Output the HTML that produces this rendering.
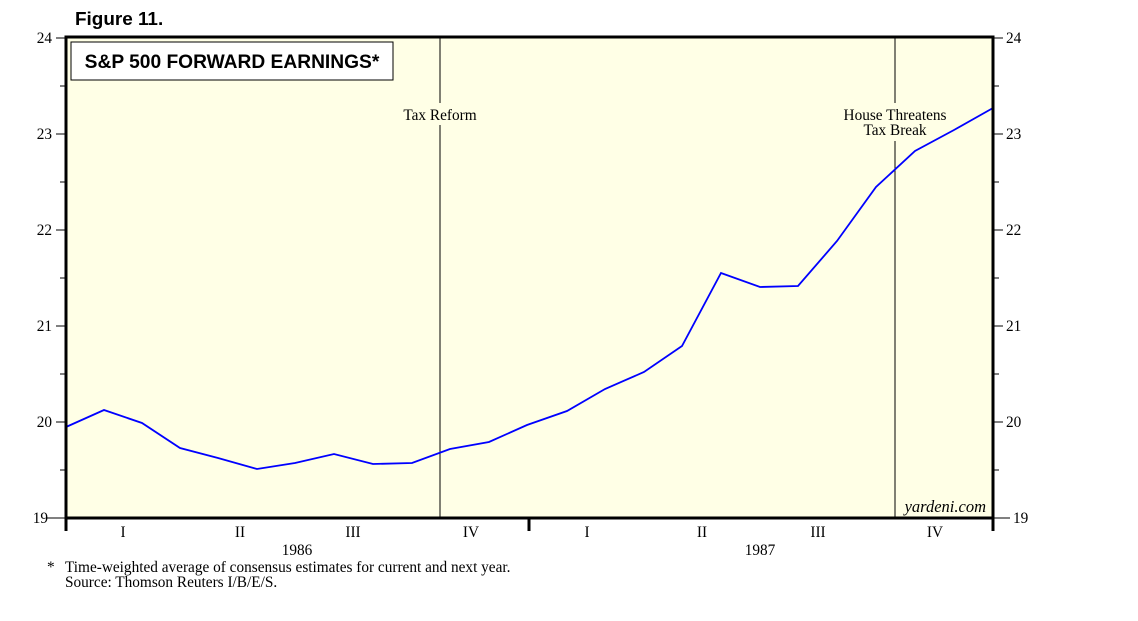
<!DOCTYPE html>
<html><head><meta charset="utf-8"><style>
body{margin:0;background:#fff;width:1138px;height:621px;overflow:hidden}
svg{display:block}
.s{font-family:"Liberation Serif",serif;font-size:15.3px;fill:#000}
</style></head><body>
<svg width="1138" height="621" viewBox="0 0 1138 621">
<text x="75" y="25" font-family="Liberation Sans,sans-serif" font-weight="bold" font-size="18.9">Figure 11.</text>
<rect x="66" y="37" width="927" height="481" fill="#ffffe6"/>
<g stroke="#000" stroke-width="1">
<line x1="440" y1="37" x2="440" y2="103"/><line x1="440" y1="125" x2="440" y2="518"/>
<line x1="895" y1="37" x2="895" y2="103"/><line x1="895" y1="141" x2="895" y2="518"/>
</g>
<rect x="71" y="42" width="322" height="38" fill="#fff" stroke="#000" stroke-width="1"/>
<text x="232" y="68" text-anchor="middle" font-family="Liberation Sans,sans-serif" font-weight="bold" font-size="19.2">S&amp;P 500 FORWARD EARNINGS*</text>
<text class="s" x="440" y="120" text-anchor="middle">Tax Reform</text>
<text class="s" x="895" y="120" text-anchor="middle">House Threatens</text>
<text class="s" x="895" y="135" text-anchor="middle">Tax Break</text>
<polyline fill="none" stroke="#0000ff" stroke-width="1.8" points="66,427 104,410 142,423 180,448 218,458 257,469 295,463 334,454 373,464 412,463 450,449 489,442 527,425 567,411 605,389 644,372 682,346 721,273 760,287 798,286 837,241 876,187 915,151 954,130 993,108"/>
<rect x="66" y="37" width="927" height="481" fill="none" stroke="#000" stroke-width="3"/>
<g stroke="#000" stroke-width="1">
<line x1="56" y1="38" x2="66" y2="38"/><line x1="60" y1="86" x2="66" y2="86"/>
<line x1="56" y1="134" x2="66" y2="134"/><line x1="60" y1="182" x2="66" y2="182"/>
<line x1="56" y1="230" x2="66" y2="230"/><line x1="60" y1="278" x2="66" y2="278"/>
<line x1="56" y1="326" x2="66" y2="326"/><line x1="60" y1="374" x2="66" y2="374"/>
<line x1="56" y1="422" x2="66" y2="422"/><line x1="60" y1="470" x2="66" y2="470"/>
<line x1="46" y1="518" x2="66" y2="518"/>
<line x1="993" y1="38" x2="1003" y2="38"/><line x1="993" y1="86" x2="999" y2="86"/>
<line x1="993" y1="134" x2="1003" y2="134"/><line x1="993" y1="182" x2="999" y2="182"/>
<line x1="993" y1="230" x2="1003" y2="230"/><line x1="993" y1="278" x2="999" y2="278"/>
<line x1="993" y1="326" x2="1003" y2="326"/><line x1="993" y1="374" x2="999" y2="374"/>
<line x1="993" y1="422" x2="1003" y2="422"/><line x1="993" y1="470" x2="999" y2="470"/>
<line x1="993" y1="518" x2="1010" y2="518"/>
</g>
<g stroke="#000" stroke-width="3"><line x1="66" y1="518" x2="66" y2="531"/><line x1="529" y1="518" x2="529" y2="531"/><line x1="993" y1="518" x2="993" y2="531"/></g>
<g class="s" text-anchor="end">
<text x="52" y="43">24</text><text x="52" y="139">23</text><text x="52" y="235">22</text><text x="52" y="331">21</text><text x="52" y="427">20</text><text x="48" y="523">19</text>
</g>
<g class="s">
<text x="1006" y="43">24</text><text x="1006" y="139">23</text><text x="1006" y="235">22</text><text x="1006" y="331">21</text><text x="1006" y="427">20</text><text x="1013" y="523">19</text>
</g>
<g class="s" text-anchor="middle">
<text x="123" y="537">I</text><text x="240" y="537">II</text><text x="353" y="537">III</text><text x="471" y="537">IV</text>
<text x="587" y="537">I</text><text x="702" y="537">II</text><text x="818" y="537">III</text><text x="935" y="537">IV</text>
<text x="297" y="555">1986</text><text x="760" y="555">1987</text>
</g>
<text x="986" y="512" text-anchor="end" font-family="Liberation Serif,serif" font-style="italic" font-size="16.5">yardeni.com</text>
<text class="s" x="47" y="572">*</text>
<text class="s" x="65" y="572">Time-weighted average of consensus estimates for current and next year.</text>
<text class="s" x="65" y="587">Source: Thomson Reuters I/B/E/S.</text>
</svg>
</body></html>
